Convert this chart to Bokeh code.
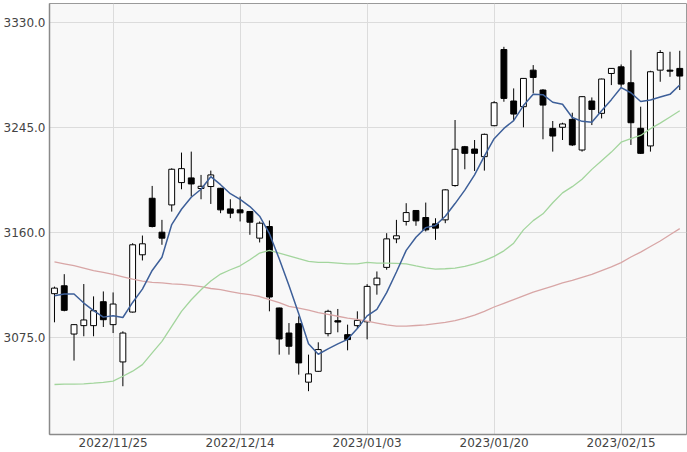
from bokeh.plotting import figure
from bokeh.models import ColumnDataSource, FixedTicker, NumeralTickFormatter, Range1d
from bokeh.embed import file_html
from bokeh.resources import INLINE

dates = ["2022/11/17", "2022/11/18", "2022/11/21", "2022/11/22", "2022/11/23", "2022/11/24", "2022/11/25",
         "2022/11/28", "2022/11/29", "2022/11/30", "2022/12/01", "2022/12/02", "2022/12/05", "2022/12/06",
         "2022/12/07", "2022/12/08", "2022/12/09", "2022/12/12", "2022/12/13", "2022/12/14", "2022/12/15",
         "2022/12/16", "2022/12/19", "2022/12/20", "2022/12/21", "2022/12/22", "2022/12/23", "2022/12/26",
         "2022/12/27", "2022/12/28", "2022/12/29", "2022/12/30", "2023/01/03", "2023/01/04", "2023/01/05",
         "2023/01/06", "2023/01/09", "2023/01/10", "2023/01/11", "2023/01/12", "2023/01/13", "2023/01/16",
         "2023/01/17", "2023/01/18", "2023/01/19", "2023/01/20", "2023/01/30", "2023/01/31", "2023/02/01",
         "2023/02/02", "2023/02/03", "2023/02/06", "2023/02/07", "2023/02/08", "2023/02/09", "2023/02/10",
         "2023/02/13", "2023/02/14", "2023/02/15", "2023/02/16", "2023/02/17", "2023/02/20", "2023/02/21",
         "2023/02/22", "2023/02/23"]

opens = [3110.3, 3116.7, 3077.6, 3084.4, 3084.4, 3103.8, 3085.2, 3055.0, 3095.4, 3141.8,
         3187.6, 3160.1, 3182.2, 3200.3, 3204.1, 3195.5, 3197.1, 3195.7, 3179.0, 3178.2,
         3176.9, 3155.3, 3164.7, 3098.7, 3078.4, 3086.0, 3038.6, 3047.4, 3077.9, 3088.4,
         3077.1, 3084.4, 3087.5, 3117.5, 3131.6, 3154.7, 3168.8, 3177.7, 3172.0, 3166.9,
         3170.1, 3197.9, 3229.4, 3227.5, 3221.3, 3246.4, 3308.1, 3266.4, 3261.8, 3291.4,
         3275.3, 3244.2, 3245.1, 3251.5, 3226.7, 3266.4, 3256.4, 3288.7, 3294.1, 3281.2,
         3244.3, 3230.0, 3291.4, 3291.4, 3292.8]
highs = [3116.0, 3126.1, 3085.5, 3118.1, 3108.1, 3112.1, 3111.3, 3079.8, 3151.2, 3157.4,
         3197.6, 3170.1, 3211.9, 3224.6, 3225.4, 3206.5, 3210.0, 3196.0, 3186.8, 3189.0,
         3177.2, 3168.8, 3169.6, 3099.0, 3086.5, 3091.9, 3060.9, 3070.9, 3097.3, 3097.9,
         3085.2, 3096.0, 3118.0, 3128.3, 3159.3, 3170.1, 3183.6, 3178.0, 3184.1, 3171.4,
         3195.0, 3251.0, 3230.0, 3234.8, 3240.0, 3266.3, 3310.3, 3276.6, 3285.0, 3295.5,
         3276.0, 3250.2, 3248.8, 3256.9, 3270.4, 3269.3, 3284.5, 3293.0, 3296.0, 3307.6,
         3261.8, 3290.9, 3307.6, 3306.3, 3307.1]
lows = [3087.1, 3096.0, 3056.1, 3075.8, 3075.8, 3083.3, 3078.4, 3035.3, 3095.0, 3137.2,
        3164.0, 3149.9, 3176.8, 3194.9, 3189.0, 3186.8, 3183.0, 3175.5, 3171.5, 3168.8,
        3158.0, 3151.8, 3096.0, 3060.9, 3060.9, 3044.7, 3031.3, 3047.0, 3075.7, 3079.0,
        3064.4, 3082.5, 3073.3, 3109.5, 3129.7, 3151.2, 3165.5, 3165.3, 3160.7, 3153.9,
        3167.4, 3197.0, 3211.1, 3209.7, 3210.0, 3246.0, 3265.8, 3251.0, 3245.1, 3272.6,
        3235.4, 3225.4, 3234.8, 3229.9, 3225.4, 3246.9, 3252.3, 3279.3, 3277.9, 3230.8,
        3223.5, 3225.4, 3282.0, 3286.0, 3275.3]
closes = [3114.8, 3096.8, 3085.2, 3089.0, 3096.5, 3089.2, 3101.9, 3078.4, 3149.9, 3150.7,
          3164.7, 3155.3, 3211.1, 3211.6, 3199.2, 3197.3, 3206.5, 3178.2, 3175.5, 3175.8,
          3168.2, 3167.4, 3107.6, 3073.6, 3067.7, 3054.2, 3045.3, 3065.0, 3096.0, 3087.3,
          3073.1, 3088.7, 3116.2, 3122.9, 3154.7, 3157.2, 3176.0, 3169.3, 3162.0, 3163.4,
          3194.4, 3227.3, 3224.0, 3224.0, 3239.4, 3265.0, 3268.5, 3255.8, 3284.7, 3285.5,
          3263.1, 3238.0, 3247.8, 3230.8, 3269.9, 3259.6, 3284.2, 3292.8, 3280.1, 3248.8,
          3224.0, 3290.1, 3305.7, 3290.6, 3286.6]

ma_short = [3108.6, 3110.0, 3110.0, 3102.7, 3096.5, 3091.3, 3092.4, 3091.0, 3103.2, 3114.0,
            3129.1, 3139.8, 3166.3, 3178.7, 3188.4, 3194.9, 3205.1, 3198.6, 3191.3, 3186.7,
            3180.9, 3173.1, 3158.9, 3138.6, 3116.9, 3094.1, 3069.7, 3061.2, 3065.6, 3069.6,
            3073.3, 3082.0, 3092.3, 3097.6, 3111.1, 3127.9, 3145.4, 3156.0, 3163.8, 3165.6,
            3173.0, 3183.3, 3194.2, 3206.6, 3221.8, 3235.9, 3244.2, 3250.5, 3262.7, 3271.9,
            3271.5, 3265.4, 3263.8, 3253.0, 3249.9, 3249.2, 3258.5, 3267.5, 3277.3, 3273.1,
            3266.0, 3267.2, 3269.7, 3271.8, 3279.4]
ma_mid = [3036.7, 3037.0, 3037.0, 3037.2, 3037.8, 3038.5, 3039.5, 3043.4, 3047.5, 3052.8,
          3062.3, 3071.7, 3083.8, 3096.0, 3105.4, 3113.5, 3120.5, 3126.2, 3129.7, 3132.9,
          3137.8, 3143.2, 3145.3, 3143.2, 3141.0, 3138.6, 3136.4, 3135.6, 3135.6, 3135.1,
          3134.5, 3134.5, 3135.6, 3135.1, 3135.1, 3134.8, 3134.5, 3132.8, 3131.2, 3130.2,
          3130.5, 3131.0, 3132.4, 3134.5, 3137.0, 3140.5, 3145.0, 3151.2, 3162.0, 3169.5,
          3175.0, 3184.0, 3192.0, 3197.0, 3203.0, 3211.0, 3218.0, 3225.0, 3233.0, 3236.0,
          3238.5, 3244.0, 3248.5, 3253.5, 3258.5]
ma_long = [3136.0, 3134.5, 3133.0, 3131.0, 3129.0, 3127.5, 3126.0, 3124.0, 3122.0, 3120.5,
           3119.5, 3119.0, 3118.3, 3117.8, 3117.0, 3116.0, 3114.5, 3113.5, 3112.0, 3110.5,
           3109.5, 3108.0, 3105.5, 3103.0, 3100.0, 3098.5, 3097.0, 3095.0, 3093.5, 3092.0,
           3090.5, 3089.5, 3088.0, 3086.5, 3085.0, 3084.0, 3084.0, 3084.5, 3085.0, 3086.0,
           3087.0, 3088.5, 3090.5, 3093.0, 3096.0, 3099.5, 3102.5, 3105.5, 3108.5, 3111.5,
           3114.0, 3116.5, 3119.0, 3121.0, 3123.5, 3126.0, 3129.0, 3132.0, 3135.5, 3140.0,
           3144.0, 3148.5, 3153.0, 3158.0, 3163.0]

tick_dates = ["2022/11/25", "2022/12/14", "2023/01/03", "2023/01/20", "2023/02/15"]
y_ticks = [3075.0, 3160.0, 3245.0, 3330.0]

idx = list(range(len(dates)))
src = ColumnDataSource(dict(
    x=idx,
    high=highs, low=lows,
    top=[max(o, c) for o, c in zip(opens, closes)],
    bottom=[min(o, c) if abs(o - c) > 0.3 else max(o, c) - 0.6 for o, c in zip(opens, closes)],
    fill=["white" if c > o else "black" for o, c in zip(opens, closes)],
))

p = figure(width=687, height=452, output_backend="svg", toolbar_location=None,
           x_range=Range1d(-0.51, len(dates) - 0.31), y_range=Range1d(2996.2, 3345.4),
           min_border_left=49, min_border_right=1, min_border_top=3, min_border_bottom=17)
p.background_fill_color = "#f8f8f8"
p.border_fill_color = "white"
p.outline_line_color = "#9a9a9a"
p.outline_line_width = 1

p.segment(x0="x", y0="low", x1="x", y1="high", source=src, line_color="black", line_width=1)
p.vbar(x="x", width=0.6, top="top", bottom="bottom", source=src,
       fill_color="fill", line_color="black", line_width=1)

p.line(idx, ma_long, line_color="#d8a6a6", line_width=1.3)
p.line(idx, ma_mid, line_color="#a3d59d", line_width=1.3)
p.line(idx, ma_short, line_color="#3d5f99", line_width=1.5)

xt = [dates.index(d) for d in tick_dates]
p.xaxis.ticker = FixedTicker(ticks=xt)
p.xaxis.major_label_overrides = {i: d for i, d in zip(xt, tick_dates)}
p.yaxis.ticker = FixedTicker(ticks=y_ticks)
p.yaxis.formatter = NumeralTickFormatter(format="0.0")

for ax in (p.xaxis, p.yaxis):
    ax.major_tick_line_color = None
    ax.minor_tick_line_color = None
    ax.major_tick_out = 0
    ax.major_tick_in = 0
    ax.axis_line_color = "#8a8a8a"
    ax.axis_line_width = 1.5
    ax.major_label_text_font = "DejaVu Sans"
    ax.major_label_text_font_size = "12px"
    ax.major_label_text_color = "#444444"
p.xaxis.major_label_standoff = 1
p.yaxis.major_label_standoff = 4

p.xgrid.grid_line_color = "#dcdcdc"
p.ygrid.grid_line_color = "#dcdcdc"

open("out.html", "w").write(file_html(p, INLINE))
